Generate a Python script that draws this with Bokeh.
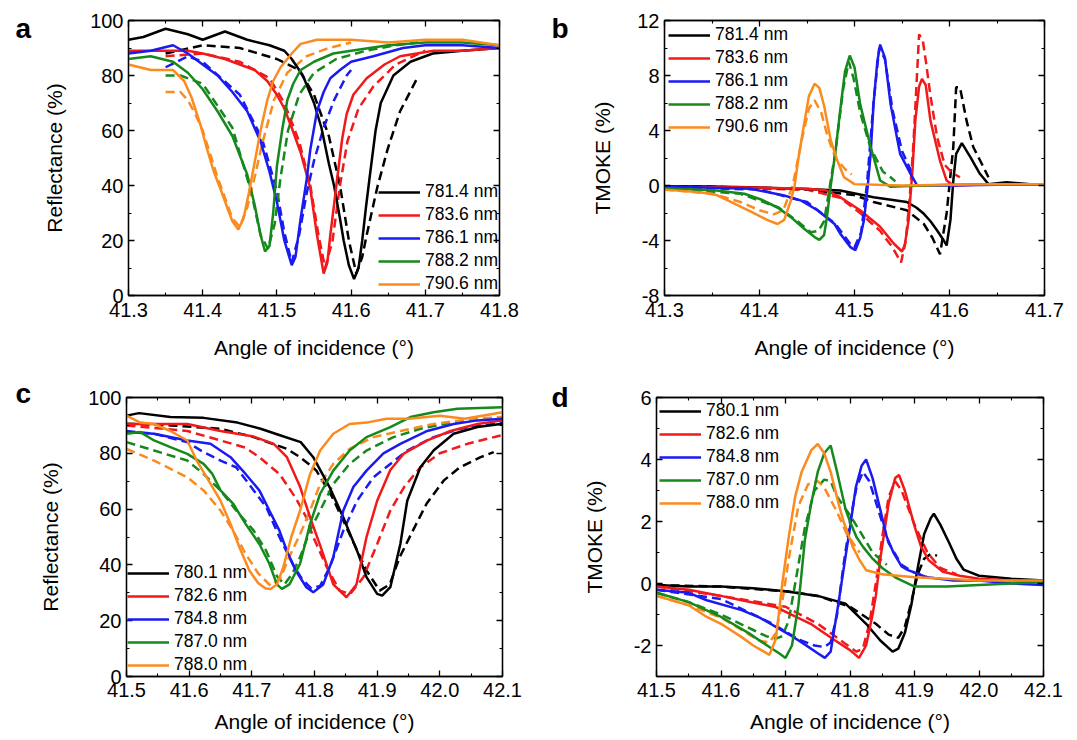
from bokeh.plotting import figure
from bokeh.models import (Range1d, FixedTicker, NumeralTickFormatter, LinearAxis,
                          Legend, LegendItem)
from bokeh.core.properties import value
from bokeh.layouts import column, row
from bokeh.embed import file_html
from bokeh.resources import INLINE

# ------------------------------------------------------------------ data
a_labels = ["781.4 nm", "783.6 nm", "786.1 nm", "788.2 nm", "790.6 nm"]
c_labels = ["780.1 nm", "782.6 nm", "784.8 nm", "787.0 nm", "788.0 nm"]
panel_letters = ["a", "b", "c", "d"]

# panel a : reflectance (measured = e, simulated = s)
a1_ex = [41.30, 41.32, 41.35, 41.38, 41.40, 41.43, 41.46, 41.49, 41.51, 41.52, 41.535, 41.55, 41.56, 41.57, 41.577, 41.585, 41.59, 41.597, 41.604, 41.61, 41.615, 41.62, 41.625, 41.633, 41.64, 41.657, 41.68, 41.71, 41.75, 41.80]
a1_ey = [93, 94, 97, 95, 93, 96, 93, 91, 89, 86, 80, 70, 61, 48, 40, 28, 20, 11, 6, 10, 20, 32, 43, 60, 70, 80, 85, 88, 89, 90]
a1_sx = [41.35, 41.40, 41.45, 41.50, 41.53, 41.55, 41.57, 41.585, 41.597, 41.607, 41.615, 41.621, 41.635, 41.649, 41.666, 41.689]
a1_sy = [88, 91, 90, 86, 82, 73, 58, 40, 20, 8, 14, 22, 39, 53, 67, 79]

a2_ex = [41.30, 41.35, 41.38, 41.40, 41.43, 41.45, 41.47, 41.487, 41.50, 41.51, 41.52, 41.532, 41.545, 41.554, 41.563, 41.568, 41.572, 41.577, 41.581, 41.588, 41.594, 41.603, 41.621, 41.645, 41.666, 41.711, 41.75, 41.80]
a2_ey = [89, 89, 89, 88, 86, 84, 82, 78, 73, 68, 61, 52, 39, 22, 8, 12, 22, 33, 42, 57, 66, 73, 79, 84, 87, 89, 89, 90]
a2_sx = [41.35, 41.40, 41.45, 41.49, 41.51, 41.53, 41.545, 41.556, 41.565, 41.575, 41.585, 41.595, 41.61, 41.63, 41.66, 41.70]
a2_sy = [87, 88, 85, 79, 70, 56, 40, 22, 10, 20, 40, 56, 68, 76, 84, 89]

a3_ex = [41.30, 41.33, 41.36, 41.38, 41.40, 41.42, 41.44, 41.46, 41.478, 41.49, 41.50, 41.51, 41.52, 41.525, 41.532, 41.54, 41.545, 41.554, 41.563, 41.572, 41.585, 41.60, 41.63, 41.67, 41.70, 41.75, 41.80]
a3_ey = [88, 89, 91, 88, 84, 80, 74, 67, 56, 45, 34, 20, 11, 14, 28, 42, 53, 67, 74, 79, 82, 85, 87, 90, 91, 91, 90]
a3_sx = [41.35, 41.38, 41.40, 41.45, 41.48, 41.50, 41.51, 41.52, 41.53, 41.54, 41.55, 41.563, 41.577, 41.594, 41.60]
a3_sy = [83, 87, 85, 73, 57, 38, 23, 12, 22, 37, 49, 61, 71, 80, 82]

a4_ex = [41.30, 41.33, 41.36, 41.38, 41.40, 41.42, 41.44, 41.46, 41.47, 41.478, 41.484, 41.49, 41.495, 41.50, 41.507, 41.514, 41.522, 41.532, 41.55, 41.576, 41.60, 41.65, 41.70, 41.75, 41.80]
a4_ey = [86, 87, 85, 81, 75, 67, 58, 44, 33, 22, 16, 18, 30, 47, 60, 71, 77, 82, 85, 88, 89, 91, 92, 92, 91]
a4_sx = [41.35, 41.37, 41.40, 41.44, 41.465, 41.478, 41.488, 41.497, 41.505, 41.515, 41.53, 41.55, 41.58, 41.62, 41.66, 41.69]
a4_sy = [80, 80, 77, 61, 38, 22, 17, 26, 43, 60, 73, 81, 86, 89, 91, 92]

a5_ex = [41.30, 41.33, 41.36, 41.375, 41.385, 41.397, 41.405, 41.415, 41.425, 41.433, 41.44, 41.448, 41.455, 41.462, 41.469, 41.478, 41.487, 41.495, 41.505, 41.52, 41.532, 41.554, 41.60, 41.65, 41.70, 41.75, 41.80]
a5_ey = [84, 82, 82, 78, 72, 62, 54, 45, 38, 32, 27, 24, 28, 37, 47, 60, 71, 78, 83, 88, 91.5, 93, 93, 92, 93, 93, 91]
a5_sx = [41.35, 41.37, 41.38, 41.39, 41.40, 41.42, 41.44, 41.45, 41.46, 41.47, 41.48, 41.496, 41.514, 41.54, 41.57, 41.60]
a5_sy = [74, 74, 71, 66, 60, 43, 28, 25, 32, 43, 55, 71, 81, 87, 90, 92]

# panel b : TMOKE
b1_ex = [41.30, 41.35, 41.40, 41.45, 41.485, 41.52, 41.555, 41.565, 41.573, 41.58, 41.587, 41.594, 41.597, 41.601, 41.604, 41.607, 41.613, 41.622, 41.632, 41.641, 41.66, 41.685, 41.70]
b1_ey = [-0.05, -0.08, -0.15, -0.25, -0.36, -0.85, -1.2, -1.6, -2.06, -2.6, -3.27, -4.0, -4.36, -2.5, 0.36, 2.3, 3.08, 2.06, 0.85, 0.1, 0.24, 0.1, 0.1]
b1_sx = [41.30, 41.40, 41.45, 41.50, 41.52, 41.555, 41.573, 41.582, 41.59, 41.597, 41.604, 41.607, 41.611, 41.618, 41.625, 41.636, 41.641]
b1_sy = [-0.05, -0.15, -0.3, -0.7, -1.2, -1.8, -2.8, -3.8, -5.0, -2.0, 2.8, 7.15, 7.15, 4.7, 2.8, 1.3, 0.6]

b2_ex = [41.30, 41.40, 41.45, 41.47, 41.485, 41.506, 41.527, 41.541, 41.55, 41.553, 41.557, 41.561, 41.564, 41.568, 41.571, 41.575, 41.58, 41.59, 41.597, 41.604, 41.65, 41.70]
b2_ey = [-0.1, -0.15, -0.24, -0.35, -0.85, -1.8, -3.0, -4.2, -4.8, -4.3, -2.5, 1.1, 4.7, 7.2, 7.75, 7.3, 4.7, 1.8, 0.36, 0.0, 0.1, 0.1]
b2_sx = [41.30, 41.45, 41.485, 41.506, 41.527, 41.54, 41.549, 41.554, 41.558, 41.562, 41.565, 41.568, 41.572, 41.575, 41.58, 41.587, 41.595, 41.603, 41.611]
b2_sy = [-0.1, -0.3, -0.9, -2.0, -3.3, -4.5, -5.6, -4.0, -1.0, 3.0, 7.0, 11.0, 10.5, 9.1, 6.5, 3.5, 1.5, 0.9, 0.6]

b3_ex = [41.30, 41.391, 41.426, 41.444, 41.461, 41.479, 41.485, 41.496, 41.501, 41.506, 41.510, 41.514, 41.517, 41.52, 41.524, 41.527, 41.532, 41.538, 41.548, 41.559, 41.566, 41.60, 41.65, 41.70]
b3_ey = [-0.07, -0.24, -0.73, -1.1, -1.8, -2.8, -3.5, -4.5, -4.7, -3.8, -2.5, 0.0, 2.3, 5.9, 9.0, 10.25, 9.3, 5.9, 2.3, 0.85, 0.0, 0.0, 0.05, 0.05]
b3_sx = [41.30, 41.40, 41.45, 41.48, 41.495, 41.50, 41.507, 41.513, 41.52, 41.526, 41.532, 41.54, 41.55, 41.56]
b3_sy = [-0.1, -0.3, -1.2, -2.8, -4.2, -4.5, -3.4, 0.0, 6.0, 10.0, 9.2, 5.5, 2.5, 1.0]

b4_ex = [41.30, 41.355, 41.384, 41.401, 41.419, 41.433, 41.447, 41.458, 41.463, 41.468, 41.471, 41.475, 41.48, 41.485, 41.49, 41.495, 41.50, 41.506, 41.517, 41.527, 41.538, 41.55, 41.60, 41.70]
b4_ey = [-0.2, -0.36, -0.6, -1.0, -1.6, -2.3, -3.15, -3.75, -3.95, -3.6, -2.3, 0.0, 2.5, 5.5, 8.3, 9.45, 8.6, 5.9, 2.8, 0.36, -0.1, -0.05, 0.05, 0.1]
b4_sx = [41.30, 41.38, 41.42, 41.44, 41.454, 41.462, 41.468, 41.473, 41.48, 41.488, 41.494, 41.499, 41.506, 41.517, 41.53, 41.538, 41.543]
b4_sy = [-0.2, -0.6, -1.6, -2.6, -3.4, -3.3, -2.6, -0.5, 2.5, 7.0, 9.0, 7.8, 5.3, 2.7, 1.0, 0.6, 0.3]

b5_ex = [41.30, 41.338, 41.355, 41.373, 41.391, 41.408, 41.419, 41.426, 41.433, 41.437, 41.441, 41.447, 41.452, 41.458, 41.463, 41.468, 41.475, 41.482, 41.489, 41.50, 41.55, 41.60, 41.65, 41.70]
b5_ey = [-0.3, -0.5, -0.7, -1.3, -1.9, -2.5, -2.8, -2.5, -1.1, 0.0, 2.0, 4.5, 6.5, 7.4, 7.1, 5.8, 3.3, 1.8, 0.6, 0.1, 0.0, 0.05, 0.1, 0.1]
b5_sx = [41.30, 41.35, 41.38, 41.40, 41.415, 41.425, 41.435, 41.445, 41.452, 41.458, 41.465, 41.472, 41.48, 41.49, 41.497]
b5_sy = [-0.3, -0.6, -1.2, -1.8, -2.1, -1.8, 0.0, 3.5, 5.6, 6.2, 5.3, 3.5, 2.0, 1.2, 0.8]

# panel c : reflectance
c1_ex = [41.50, 41.52, 41.57, 41.623, 41.677, 41.714, 41.746, 41.778, 41.798, 41.824, 41.846, 41.868, 41.883, 41.90, 41.908, 41.921, 41.937, 41.948, 41.969, 41.99, 42.022, 42.06, 42.10]
c1_ey = [93.5, 94.4, 93, 92.7, 91, 88.8, 86.4, 84, 78.6, 67.9, 57, 45, 35.6, 29.6, 29, 32, 47.5, 63, 75, 81, 87, 89.4, 90.6]
c1_sx = [41.50, 41.57, 41.65, 41.703, 41.756, 41.777, 41.794, 41.803, 41.829, 41.856, 41.883, 41.904, 41.92, 41.936, 41.957, 41.979, 42.006, 42.032, 42.065, 42.086]
c1_sy = [90.6, 90, 88.8, 85.8, 81.6, 78.6, 75.6, 73.8, 64, 51, 38, 30.8, 33, 42.8, 52.3, 62, 70.2, 75, 78.6, 80.4]

c2_ex = [41.50, 41.55, 41.597, 41.65, 41.703, 41.735, 41.756, 41.777, 41.793, 41.809, 41.83, 41.851, 41.867, 41.883, 41.90, 41.921, 41.943, 41.98, 42.017, 42.06, 42.10]
c2_ey = [90.5, 90.5, 90.5, 88, 86, 83.4, 78.6, 68, 57, 47, 33, 28.4, 33, 50, 63, 74, 80, 84.6, 88, 90.5, 91.8]
c2_sx = [41.50, 41.597, 41.65, 41.69, 41.712, 41.744, 41.77, 41.787, 41.798, 41.82, 41.84, 41.857, 41.878, 41.90, 41.921, 41.943, 41.969, 42.0, 42.044, 42.097]
c2_sy = [90, 88, 84.6, 82, 78.6, 72.6, 64, 57, 50, 39, 30.8, 29.6, 35.6, 47.5, 59.5, 67.9, 75, 80, 83.4, 86.4]

c3_ex = [41.50, 41.544, 41.597, 41.634, 41.666, 41.69, 41.712, 41.728, 41.744, 41.756, 41.77, 41.787, 41.798, 41.814, 41.83, 41.846, 41.862, 41.883, 41.91, 41.937, 41.98, 42.022, 42.06, 42.10]
c3_ey = [87.6, 87, 84.6, 83.4, 78.6, 72.6, 66.7, 59.5, 52.3, 45, 38, 32, 30.2, 33, 42.8, 59.5, 67.9, 73.8, 80, 83.4, 88, 90.5, 91.8, 92.4]
c3_sx = [41.50, 41.544, 41.597, 41.623, 41.65, 41.675, 41.703, 41.723, 41.744, 41.766, 41.78, 41.795, 41.809, 41.824, 41.846, 41.868, 41.894, 41.921, 41.948, 41.99, 42.033, 42.10]
c3_sy = [88, 87, 84, 80.4, 77.4, 75, 66.7, 60.7, 50, 40, 35, 31.5, 32.5, 39, 52.3, 63, 71.4, 76.2, 81, 85.8, 88.8, 91]

c4_ex = [41.50, 41.522, 41.544, 41.57, 41.597, 41.623, 41.637, 41.65, 41.67, 41.69, 41.712, 41.728, 41.74, 41.748, 41.76, 41.777, 41.793, 41.809, 41.83, 41.856, 41.883, 41.921, 41.953, 41.99, 42.028, 42.10]
c4_ey = [87, 87.6, 84.6, 82.2, 79.8, 76.2, 72.6, 66.7, 62, 54.7, 47.5, 40.4, 33, 31.4, 33, 40.4, 54.7, 65.5, 73.8, 81, 85.8, 89.4, 93, 94.7, 96, 96.5]
c4_sx = [41.50, 41.544, 41.597, 41.623, 41.65, 41.675, 41.703, 41.723, 41.74, 41.752, 41.765, 41.777, 41.793, 41.809, 41.83, 41.856, 41.883, 41.926, 41.969, 42.017, 42.10]
c4_sy = [84, 81, 77.4, 72.6, 66.7, 59.5, 52.3, 45, 36, 33, 37, 42.8, 52.3, 59.5, 69, 76.2, 81, 85.8, 88.8, 91, 93]

c5_ex = [41.50, 41.522, 41.544, 41.57, 41.597, 41.612, 41.628, 41.65, 41.666, 41.68, 41.696, 41.71, 41.722, 41.73, 41.74, 41.75, 41.763, 41.777, 41.793, 41.809, 41.83, 41.856, 41.883, 41.915, 41.95, 42.0, 42.04, 42.10]
c5_ey = [93.5, 91, 90.5, 88, 84.6, 77.4, 71.4, 63, 54.7, 46.4, 38, 33.5, 31.5, 31.4, 33, 39, 50, 59.5, 72.6, 81, 87, 90.5, 91, 92.4, 92.4, 93.5, 92.4, 94.7]
c5_sx = [41.50, 41.544, 41.597, 41.623, 41.65, 41.67, 41.69, 41.71, 41.73, 41.745, 41.76, 41.777, 41.793, 41.809, 41.83, 41.856, 41.894, 41.937, 41.99, 42.054, 42.10]
c5_sy = [81.6, 77.4, 71.4, 66.7, 59.5, 52.3, 44, 37, 32.5, 35, 43, 51, 59.5, 69, 76.2, 81.6, 85.8, 88, 90.5, 92.4, 93]

# panel d : TMOKE
d1_ex = [41.50, 41.55, 41.60, 41.65, 41.70, 41.75, 41.793, 41.825, 41.847, 41.866, 41.875, 41.885, 41.895, 41.905, 41.915, 41.925, 41.93, 41.94, 41.954, 41.965, 41.976, 42.0, 42.05, 42.10]
d1_ey = [-0.05, -0.1, -0.1, -0.15, -0.25, -0.4, -0.65, -1.3, -1.84, -2.2, -2.1, -1.6, -0.7, 0.5, 1.6, 2.1, 2.25, 1.9, 1.3, 0.8, 0.45, 0.25, 0.15, 0.1]
d1_sx = [41.50, 41.60, 41.70, 41.75, 41.80, 41.84, 41.86, 41.875, 41.885, 41.895, 41.905, 41.915, 41.925, 41.935]
d1_sy = [-0.05, -0.1, -0.25, -0.4, -0.75, -1.3, -1.65, -1.75, -1.4, -0.6, 0.3, 0.8, 0.95, 0.9]

d2_ex = [41.50, 41.55, 41.60, 41.632, 41.685, 41.739, 41.777, 41.80, 41.814, 41.825, 41.835, 41.84, 41.847, 41.86, 41.87, 41.876, 41.885, 41.90, 41.91, 41.922, 41.944, 41.97, 42.0, 42.05, 42.10]
d2_ey = [-0.1, -0.2, -0.4, -0.54, -0.76, -1.3, -1.84, -2.15, -2.4, -2.0, -1.0, -0.4, 0.8, 2.6, 3.4, 3.5, 3.0, 1.85, 1.2, 0.75, 0.38, 0.25, 0.15, 0.1, 0.05]
d2_sx = [41.50, 41.60, 41.70, 41.75, 41.79, 41.81, 41.82, 41.83, 41.84, 41.85, 41.86, 41.87, 41.88, 41.90, 41.92, 41.94, 41.965]
d2_sy = [-0.1, -0.4, -0.75, -1.3, -1.9, -2.2, -2.1, -1.3, 0.0, 1.5, 2.8, 3.3, 3.0, 1.9, 1.0, 0.5, 0.3]

d3_ex = [41.50, 41.55, 41.578, 41.632, 41.66, 41.685, 41.71, 41.728, 41.75, 41.761, 41.77, 41.782, 41.793, 41.80, 41.809, 41.818, 41.825, 41.835, 41.847, 41.857, 41.868, 41.88, 41.89, 41.92, 41.96, 42.0, 42.05, 42.10]
d3_ey = [-0.2, -0.3, -0.54, -0.86, -1.1, -1.4, -1.7, -1.94, -2.25, -2.4, -2.2, -0.65, 0.86, 1.8, 3.1, 3.8, 4.0, 3.4, 2.38, 1.5, 0.97, 0.55, 0.43, 0.2, 0.1, 0.1, 0.0, -0.05]
d3_sx = [41.50, 41.60, 41.68, 41.72, 41.745, 41.76, 41.77, 41.78, 41.79, 41.80, 41.81, 41.82, 41.83, 41.845, 41.86, 41.88, 41.90, 41.92]
d3_sy = [-0.2, -0.5, -1.3, -1.8, -2.0, -2.05, -1.9, -1.0, 0.6, 2.0, 3.1, 3.6, 3.3, 2.3, 1.3, 0.6, 0.35, 0.2]

d4_ex = [41.50, 41.55, 41.60, 41.643, 41.675, 41.69, 41.70, 41.71, 41.72, 41.73, 41.74, 41.75, 41.76, 41.77, 41.78, 41.793, 41.80, 41.81, 41.82, 41.835, 41.85, 41.87, 41.90, 41.95, 42.0, 42.05, 42.10]
d4_ey = [-0.3, -0.6, -1.08, -1.6, -2.05, -2.25, -2.4, -2.0, -0.7, 1.4, 2.6, 3.6, 4.2, 4.45, 3.6, 2.4, 2.0, 1.5, 1.19, 0.8, 0.5, 0.2, -0.1, -0.1, -0.05, 0.0, 0.05]
d4_sx = [41.50, 41.55, 41.60, 41.65, 41.67, 41.685, 41.695, 41.705, 41.715, 41.73, 41.745, 41.76, 41.77, 41.78, 41.80, 41.815, 41.835, 41.857]
d4_sy = [-0.3, -0.6, -1.0, -1.5, -1.7, -1.78, -1.7, -1.2, 0.0, 1.8, 3.0, 3.35, 3.3, 2.8, 2.2, 1.7, 1.0, 0.6]

d5_ex = [41.50, 41.55, 41.578, 41.60, 41.632, 41.65, 41.675, 41.685, 41.695, 41.705, 41.715, 41.725, 41.74, 41.75, 41.76, 41.77, 41.782, 41.79, 41.804, 41.815, 41.825, 41.85, 41.90, 41.95, 42.0, 42.05, 42.10]
d5_ey = [-0.4, -0.7, -1.08, -1.3, -1.73, -2.0, -2.3, -1.8, 0.0, 1.5, 2.8, 3.6, 4.3, 4.5, 4.2, 3.6, 2.6, 2.0, 1.19, 0.75, 0.43, 0.3, 0.2, 0.15, 0.1, 0.1, 0.1]
d5_sx = [41.50, 41.55, 41.60, 41.64, 41.66, 41.675, 41.685, 41.695, 41.705, 41.72, 41.735, 41.75, 41.76, 41.78, 41.795, 41.815]
d5_sy = [-0.4, -0.7, -1.1, -1.6, -1.85, -1.9, -1.6, -0.6, 0.8, 2.5, 3.2, 3.3, 3.1, 2.3, 1.6, 1.0]

# axis ranges and ticks
a_xrange = (41.3, 41.8)
b_xrange = (41.3, 41.7)
cd_xrange = (41.5, 42.1)
refl_yrange = (0, 100)
b_yrange = (-8, 12)
d_yrange = (-3, 6)
a_xticks = [41.3, 41.4, 41.5, 41.6, 41.7, 41.8]
a_xminor = [41.35, 41.45, 41.55, 41.65, 41.75]
b_xticks = [41.3, 41.4, 41.5, 41.6, 41.7]
b_xminor = [41.35, 41.45, 41.55, 41.65]
cd_xticks = [41.5, 41.6, 41.7, 41.8, 41.9, 42.0, 42.1]
cd_xminor = [41.55, 41.65, 41.75, 41.85, 41.95, 42.05]
refl_yticks = [0, 20, 40, 60, 80, 100]
refl_yminor = [10, 30, 50, 70, 90]
b_yticks = [-8, -4, 0, 4, 8, 12]
b_yminor = [-6, -2, 2, 6, 10]
d_yticks = [-2, 0, 2, 4, 6]
d_yminor = [-3, -1, 1, 3, 5]

# ------------------------------------------------------------------ style
FONT = "Liberation Sans"
COLORS = ["#000000", "#f2191b", "#1a1af2", "#16891d", "#fb8b1e"]
LW = 2.5
DASH = "9 5"
ROW1_H = 375
ROW2_H = 363
STRIP_H = ROW1_H + ROW2_H
LETTER_W = 36


def style_axis(ax, show):
    ax.axis_line_color = "black"
    ax.axis_line_width = 1.3
    ax.major_tick_line_color = "black"
    ax.minor_tick_line_color = "black"
    ax.major_tick_line_width = 1.3
    ax.minor_tick_line_width = 1.1
    ax.major_tick_in = 6
    ax.major_tick_out = 0
    ax.minor_tick_in = 3
    ax.minor_tick_out = 0
    if show:
        ax.major_label_text_font = FONT
        ax.major_label_text_font_size = "20px"
        ax.major_label_text_color = "black"
        ax.axis_label_text_font = FONT
        ax.axis_label_text_font_size = "21px"
        ax.axis_label_text_font_style = "normal"
        ax.axis_label_text_color = "black"
    else:
        ax.major_label_text_font_size = "1px"
        ax.major_label_text_color = None
        ax.major_label_standoff = 0
        ax.axis_label = None


def panel(w, h, bl, br, bt, bb, xr, yr, xt, xm, yt, ym, ylabel,
          ystand, xstand, xlabstand, series, labels, legend_loc, legend_margin):
    p = figure(width=w, height=h, x_range=Range1d(*xr), y_range=Range1d(*yr),
               output_backend="svg", toolbar_location=None,
               min_border_left=bl, min_border_right=br,
               min_border_top=bt, min_border_bottom=bb,
               x_axis_label="Angle of incidence (°)", y_axis_label=ylabel)
    p.xgrid.visible = False
    p.ygrid.visible = False
    p.outline_line_color = "black"
    p.outline_line_width = 1.3
    p.background_fill_color = "white"
    p.border_fill_color = "white"

    xa = p.xaxis[0]
    ya = p.yaxis[0]
    xa.ticker = FixedTicker(ticks=xt, minor_ticks=xm)
    ya.ticker = FixedTicker(ticks=yt, minor_ticks=ym)
    xa.formatter = NumeralTickFormatter(format="0.0")
    ya.formatter = NumeralTickFormatter(format="0")
    style_axis(xa, True)
    style_axis(ya, True)
    xa.major_label_standoff = xstand
    xa.axis_label_standoff = xlabstand
    ya.major_label_standoff = 5
    ya.axis_label_standoff = ystand

    top = LinearAxis(ticker=FixedTicker(ticks=xt, minor_ticks=xm))
    right = LinearAxis(ticker=FixedTicker(ticks=yt, minor_ticks=ym))
    style_axis(top, False)
    style_axis(right, False)
    p.add_layout(top, "above")
    p.add_layout(right, "right")

    # simulated (dashed) first, measured (solid) on top
    for (ex, ey, sx, sy), c in zip(series, COLORS):
        p.line(sx, sy, line_color=c, line_width=LW, line_dash=DASH)
    items = []
    for (ex, ey, sx, sy), c, lab in zip(series, COLORS, labels):
        r = p.line(ex, ey, line_color=c, line_width=LW)
        items.append(LegendItem(label=lab, renderers=[r]))

    leg = Legend(items=items, location=legend_loc, margin=legend_margin,
                 padding=2, spacing=2, glyph_width=42, glyph_height=20,
                 label_height=20, label_standoff=5,
                 label_text_font=FONT, label_text_font_size="17.5px",
                 label_text_color="black",
                 border_line_color=None, background_fill_alpha=0)
    p.add_layout(leg)
    return p


def letter_strip(letters, xs, ys):
    # a narrow full-height strip whose data space equals its pixel space
    f = figure(width=LETTER_W, height=STRIP_H, title=None,
               x_range=Range1d(0, LETTER_W), y_range=Range1d(0, STRIP_H),
               output_backend="svg", toolbar_location=None,
               x_axis_location=None, y_axis_location=None,
               min_border=0, min_border_left=0, min_border_right=0,
               min_border_top=0, min_border_bottom=0)
    f.xgrid.visible = False
    f.ygrid.visible = False
    f.outline_line_color = None
    f.background_fill_color = "white"
    f.border_fill_color = "white"
    f.text(x=xs, y=ys, text=letters, text_font=value(FONT),
           text_font_size="28px", text_font_style="bold", text_color="black",
           text_align="left", text_baseline="alphabetic")
    return f


a_series = [(a1_ex, a1_ey, a1_sx, a1_sy), (a2_ex, a2_ey, a2_sx, a2_sy),
            (a3_ex, a3_ey, a3_sx, a3_sy), (a4_ex, a4_ey, a4_sx, a4_sy),
            (a5_ex, a5_ey, a5_sx, a5_sy)]
b_series = [(b1_ex, b1_ey, b1_sx, b1_sy), (b2_ex, b2_ey, b2_sx, b2_sy),
            (b3_ex, b3_ey, b3_sx, b3_sy), (b4_ex, b4_ey, b4_sx, b4_sy),
            (b5_ex, b5_ey, b5_sx, b5_sy)]
c_series = [(c1_ex, c1_ey, c1_sx, c1_sy), (c2_ex, c2_ey, c2_sx, c2_sy),
            (c3_ex, c3_ey, c3_sx, c3_sy), (c4_ex, c4_ey, c4_sx, c4_sy),
            (c5_ex, c5_ey, c5_sx, c5_sy)]
d_series = [(d1_ex, d1_ey, d1_sx, d1_sy), (d2_ex, d2_ey, d2_sx, d2_sy),
            (d3_ex, d3_ey, d3_sx, d3_sy), (d4_ex, d4_ey, d4_sx, d4_sy),
            (d5_ex, d5_ey, d5_sx, d5_sy)]

pa = panel(507, ROW1_H, 92, 44, 20, 80, a_xrange, refl_yrange, a_xticks, a_xminor,
           refl_yticks, refl_yminor, "Reflectance (%)", 21, 7, 16,
           a_series, a_labels, "bottom_right", 1)
pb = panel(485, ROW1_H, 85, 20, 20, 80, b_xrange, b_yrange, b_xticks, b_xminor,
           b_yticks, b_yminor, "TMOKE (%)", 20, 7, 16,
           b_series, a_labels, "top_left", 4)
pc = panel(507, ROW2_H, 90, 41, 22, 62, cd_xrange, refl_yrange, cd_xticks, cd_xminor,
           refl_yticks, refl_yminor, "Reflectance (%)", 23, 6, 10,
           c_series, c_labels, "bottom_left", 1)
pd = panel(485, ROW2_H, 75, 21, 22, 62, cd_xrange, d_yrange, cd_xticks, cd_xminor,
           d_yticks, d_yminor, "TMOKE (%)", 25, 6, 10,
           d_series, c_labels, "top_left", 3)

# letters: a / c in the left strip, b / d in the middle strip (baselines in strip pixels)
strip_left = letter_strip([panel_letters[0], panel_letters[2]], [15, 15],
                          [STRIP_H - 28, STRIP_H - 393])
strip_mid = letter_strip([panel_letters[1], panel_letters[3]], [8, 8],
                         [STRIP_H - 28, STRIP_H - 397])

# each panel wrapped on its own so its frame keeps its own left/right edges
layout = row(strip_left, column(row(pa), row(pc)), strip_mid, column(row(pb), row(pd)))
open("out.html", "w").write(file_html(layout, INLINE))
